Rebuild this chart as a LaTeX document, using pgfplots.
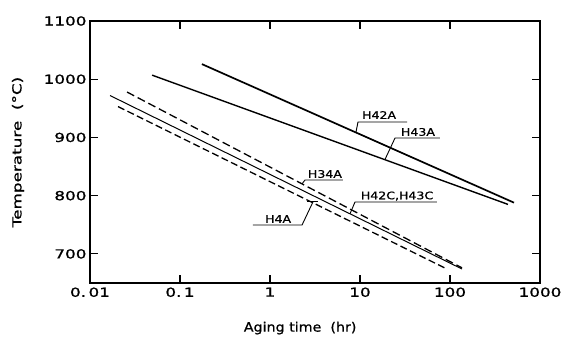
\documentclass[border=0pt]{standalone}
\usepackage{fontspec}
\setmainfont{DejaVu Sans}
\newfontfamily\wide[FakeStretch=1.35,FakeBold=1.2]{DejaVu Sans}
\newfontfamily\widel[FakeStretch=1.2,FakeBold=0.8]{DejaVu Sans}
\newfontfamily\widex[FakeStretch=1.1,FakeBold=0.9]{DejaVu Sans}
\newfontfamily\widey[FakeStretch=1.35,FakeBold=0.9]{DejaVu Sans}
\usepackage{pgfplots}
\pgfplotsset{compat=1.18}
\begin{document}
\begin{tikzpicture}
\begin{axis}[
  name=ax,
  xmode=log,
  scale only axis,
  width=450bp, height=262bp,
  xmin=0.01, xmax=1000, ymin=650, ymax=1100,
  xtick={0.01,0.1,1,10,100,1000},
  xticklabels={0.\hspace{0.2em}01,0.\hspace{0.2em}1,1,10,100,1000},
  ytick={700,800,900,1000,1100},
  yticklabels={700,800,900,1000,1100},
  xminorticks=false, yminorticks=false,
  tick align=inside,
  major tick length=8bp,
  axis line style={line width=1.6bp},
  every tick/.style={line width=1.2bp, black},
  tick label style={font=\wide\fontsize{12.5}{13}\selectfont},
  xticklabel style={yshift=-1bp},
  xlabel={Aging time\ \ (hr)},
  ylabel={Temperature\ \ (°C)},
  every axis x label/.style={at={(axis description cs:0.467,-0.172)}, anchor=center, font=\widex\fontsize{13}{14}\selectfont},
  every axis y label/.style={at={(axis description cs:-0.16,0.5)}, rotate=90, anchor=center, font=\widey\fontsize{12.5}{14}\selectfont},
  clip=false,
]
% H42A
\addplot[black, line width=1.7bp] coordinates {(0.175,1026) (514,788)};
% H43A
\addplot[black, line width=1.4bp] coordinates {(0.049,1007) (441,785)};
% H34A (upper dashed)
\addplot[black, line width=1.3bp, dash pattern=on 8bp off 4bp] coordinates {(0.0258,978) (136,676)};
% H42C, H43C (solid)
\addplot[black, line width=1.0bp] coordinates {(0.0167,972) (136,674)};
% H4A (lower dashed)
\addplot[black, line width=1.3bp, dash pattern=on 7bp off 3.5bp] coordinates {(0.0205,953) (92.6,674)};

% annotations
\begin{scope}[line width=0.9bp]
\draw (axis cs:9.03,909.4) -- (axis cs:9.5,926.5) -- (axis cs:33.3,926.5);
\node[font=\widel\fontsize{10.5}{12}\selectfont] at (axis cs:16.3,938.5) {H42A};
\draw (axis cs:18.9,861.8) -- (axis cs:24.5,899) -- (axis cs:77.4,899);
\node[font=\widel\fontsize{10.5}{12}\selectfont] at (axis cs:44.1,909.4) {H43A};
\draw (axis cs:2.27,820.3) -- (axis cs:2.45,826.9) -- (axis cs:6.47,826.9);
\node[font=\widel\fontsize{10.5}{12}\selectfont] at (axis cs:4.08,837.2) {H34A};
\draw (axis cs:7.74,768.8) -- (axis cs:8.8,789.1) -- (axis cs:71.7,789.1);
\node[font=\widel\fontsize{10.5}{12}\selectfont] at (axis cs:25.8,799.4) {H42C,H43C};
\draw (axis cs:0.647,749.6) -- (axis cs:2.27,749.6) -- (axis cs:3.0,789.1);
\draw (axis cs:2.60,790.8) -- (axis cs:3.41,790.8);
\node[font=\widel\fontsize{10.5}{12}\selectfont] at (axis cs:1.23,759.9) {H4A};
\end{scope}
\end{axis}
\path[use as bounding box] ([xshift=-90bp,yshift=-57bp]ax.south west) rectangle ([xshift=26bp,yshift=21bp]ax.north east);
\end{tikzpicture}
\end{document}
